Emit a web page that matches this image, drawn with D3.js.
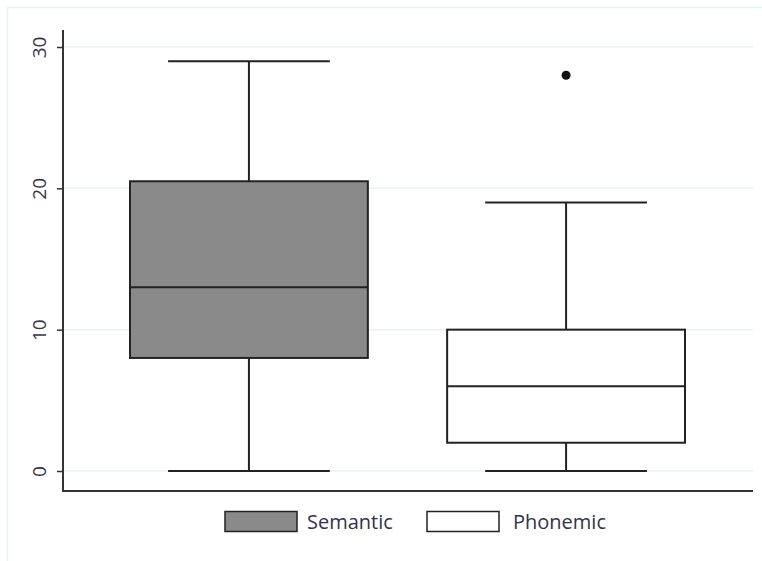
<!DOCTYPE html>
<html>
<head>
<meta charset="utf-8">
<script src="https://cdn.jsdelivr.net/npm/d3@7"></script>
<style>
  html, body { margin: 0; padding: 0; background: #fff; }
  svg { display: block; }
</style>
</head>
<body>
<svg id="chart" width="762" height="561"></svg>
<script>
// Verbal fluency scores: five-number summaries per task
const groups = ["Semantic", "Phonemic"];
const lowerWhisker = [0, 0];
const q1 = [8, 2];
const median = [13, 6];
const q3 = [20.5, 10];
const upperWhisker = [29, 19];
const outliers = [[], [28]];
const fills = ["#8a8a8a", "#ffffff"];
const yTicks = [0, 10, 20, 30];

const svg = d3.select("#chart");
const W = 762, H = 561;
const plot = { left: 63, right: 753, top: 30, bottom: 491 };
const font = "'Open Sans', 'DejaVu Sans', sans-serif";

// Outer frame
svg.append("rect")
  .attr("x", 7.5).attr("y", 7.5)
  .attr("width", W).attr("height", H)
  .attr("fill", "none").attr("stroke", "#eaf1f2").attr("stroke-width", 1.5);

const y = d3.scaleLinear().domain([0, 30]).range([471, 47]);
const x = d3.scaleBand().domain(groups)
  .range([130, 685]).paddingInner(0.25).paddingOuter(0);

// Grid lines
svg.append("g").selectAll("line").data(yTicks).join("line")
  .attr("x1", plot.left).attr("x2", plot.right)
  .attr("y1", d => y(d)).attr("y2", d => y(d))
  .attr("stroke", "#eaf2f3").attr("stroke-width", 1.5);

// Boxes
const bw = x.bandwidth();
const capW = bw * 0.68;
const g = svg.append("g");
groups.forEach((name, i) => {
  const cx = x(name) + bw / 2;
  const line = (x1, y1, x2, y2) => g.append("line")
    .attr("x1", x1).attr("y1", y1).attr("x2", x2).attr("y2", y2)
    .attr("stroke", "#222").attr("stroke-width", 2);
  // whiskers
  line(cx, y(upperWhisker[i]), cx, y(q3[i]));
  line(cx, y(q1[i]), cx, y(lowerWhisker[i]));
  line(cx - capW / 2, y(upperWhisker[i]), cx + capW / 2, y(upperWhisker[i]));
  line(cx - capW / 2, y(lowerWhisker[i]), cx + capW / 2, y(lowerWhisker[i]));
  // box
  g.append("rect")
    .attr("x", x(name)).attr("y", y(q3[i]))
    .attr("width", bw).attr("height", y(q1[i]) - y(q3[i]))
    .attr("fill", fills[i]).attr("stroke", "#222").attr("stroke-width", 2);
  line(x(name), y(median[i]), x(name) + bw, y(median[i]));
  // outliers
  outliers[i].forEach(v => {
    g.append("circle").attr("cx", cx).attr("cy", y(v)).attr("r", 4.5).attr("fill", "#111");
  });
});

// Axes
const yAxis = svg.append("g").attr("transform", `translate(${plot.left},0)`)
  .call(d3.axisLeft(y).tickValues(yTicks).tickSize(6).tickPadding(10).tickFormat(d3.format("d")));
yAxis.select(".domain").remove();
yAxis.selectAll(".tick line").attr("stroke", "#333").attr("stroke-width", 1.5);
yAxis.selectAll(".tick text")
  .attr("transform", "rotate(-90)")
  .attr("x", 0).attr("y", -17)
  .attr("dy", "0")
  .attr("text-anchor", "middle")
  .attr("fill", "#3a3448")
  .style("font-family", font)
  .style("font-size", "19px");

svg.append("line")
  .attr("x1", plot.left).attr("x2", plot.left)
  .attr("y1", plot.top).attr("y2", plot.bottom + 1)
  .attr("stroke", "#333").attr("stroke-width", 2);
svg.append("line")
  .attr("x1", plot.left - 1).attr("x2", plot.right)
  .attr("y1", plot.bottom).attr("y2", plot.bottom)
  .attr("stroke", "#333").attr("stroke-width", 2);

// Legend
const legendX = [225, 427];
const leg = svg.append("g");
groups.forEach((name, i) => {
  leg.append("rect")
    .attr("x", legendX[i]).attr("y", 511.5)
    .attr("width", 72).attr("height", 20)
    .attr("fill", fills[i]).attr("stroke", "#222").attr("stroke-width", 1.5);
  leg.append("text")
    .attr("x", legendX[i] + 82 + (i === 1 ? 4 : 0)).attr("y", 529)
    .attr("fill", "#33334a")
    .style("font-family", font)
    .style("font-size", "20px")
    .text(name);
});
</script>
</body>
</html>
